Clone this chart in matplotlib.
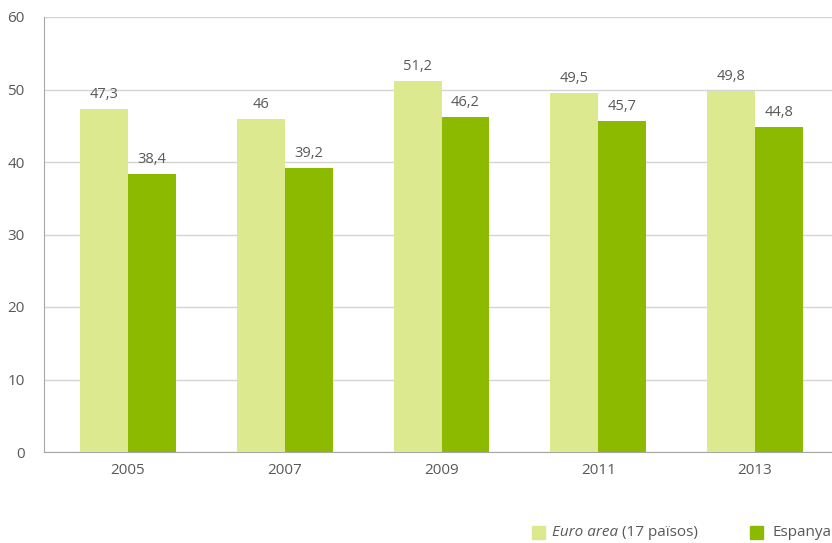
import matplotlib
matplotlib.use("Agg")
import matplotlib.pyplot as plt
from matplotlib.patches import Rectangle
import numpy as np

years = ["2005", "2007", "2009", "2011", "2013"]
euro_area = [47.3, 46.0, 51.2, 49.5, 49.8]
espanya = [38.4, 39.2, 46.2, 45.7, 44.8]
euro_labels = ["47,3", "46", "51,2", "49,5", "49,8"]
espanya_labels = ["38,4", "39,2", "46,2", "45,7", "44,8"]

LIGHT = "#dce98f"
DARK = "#8cba00"
TEXT = "#595959"
GRID = "#d4d4d4"

plt.rcParams["font.family"] = ["Open Sans", "DejaVu Sans"]

fig = plt.figure(figsize=(8.32, 5.43), dpi=100)
ax = fig.add_axes([44 / 832, 91 / 543, 788 / 832, 435 / 543])

x = np.arange(len(years))
w = 0.306
b1 = ax.bar(x - w / 2, euro_area, w, color=LIGHT, zorder=3)
b2 = ax.bar(x + w / 2, espanya, w, color=DARK, zorder=3)

for bars, labels in ((b1, euro_labels), (b2, espanya_labels)):
    for rect, lab in zip(bars, labels):
        ax.annotate(lab, (rect.get_x() + rect.get_width() / 2, rect.get_height()),
                    xytext=(0, 5), textcoords="offset points", ha="center",
                    va="bottom", fontsize=10.5, color=TEXT)

ax.set_xlim(-0.536, 4.491)
ax.set_ylim(0, 60)
ax.set_yticks(range(0, 61, 10))
ax.set_xticks(x)
ax.set_xticklabels(years)
ax.yaxis.grid(True, color=GRID, linewidth=1, zorder=0)
ax.set_axisbelow(True)
for s in ["top", "right"]:
    ax.spines[s].set_visible(False)
ax.spines["left"].set_color("#a6a6a6")
ax.spines["bottom"].set_color("#a6a6a6")
ax.tick_params(axis="both", colors=TEXT, labelsize=11, length=0)
ax.tick_params(axis="y", pad=14)
ax.tick_params(axis="x", pad=8)
for lbl in ax.get_xticklabels() + ax.get_yticklabels():
    lbl.set_color(TEXT)

# Legend drawn in figure pixel coordinates
def fx(px):
    return px / 832

def fy(py):
    return 1 - py / 543

fig.patches.append(Rectangle((fx(532), fy(539)), 13 / 832, 13 / 543,
                             transform=fig.transFigure, color=LIGHT))
fig.patches.append(Rectangle((fx(750), fy(539)), 13 / 832, 13 / 543,
                             transform=fig.transFigure, color=DARK))
t1 = fig.text(fx(552), fy(533), "Euro area", fontsize=11, style="italic",
              color=TEXT, va="center", ha="left")
fig.canvas.draw()
bb = t1.get_window_extent()
fig.text((bb.x1 + 4) / 832, fy(533), "(17 països)", fontsize=11,
         color=TEXT, va="center", ha="left")
fig.text(fx(773), fy(533), "Espanya", fontsize=11, color=TEXT,
         va="center", ha="left")

fig.savefig("out.png", dpi=100)
